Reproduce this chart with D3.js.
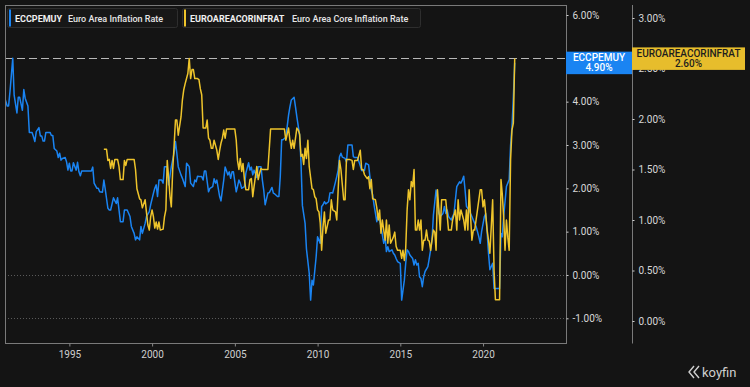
<!DOCTYPE html>
<html><head><meta charset="utf-8">
<script src="https://cdn.jsdelivr.net/npm/d3@7"></script>
<style>
html,body{margin:0;padding:0;background:#141414;}
svg{display:block;font-family:Roboto,"Noto Sans",sans-serif;}
</style></head><body>
<svg id="c" width="750" height="387"></svg>
<script>
const seriesCodes = ["ECCPEMUY", "EUROAREACORINFRAT"];
const seriesTitles = ["Euro Area Inflation Rate", "Euro Area Core Inflation Rate"];
const seriesColors = ["#1a84f2", "#eec42b"];
const xTickYears = [1995, 2000, 2005, 2010, 2015, 2020];
const leftTicks = [-1, 0, 1, 2, 3, 4, 6];
const rightTicks = [0, 0.5, 1, 1.5, 2, 2.5, 3];
const gridLevels = [-1, 0];

const headline = [
["1991-01",4.10],["1991-03",3.90],["1991-04",3.90],["1991-05",4.23],["1991-07",5.00],["1991-08",4.15],["1991-10",3.74],["1991-11",4.10],["1991-12",4.10],
["1992-02",3.80],["1992-03",4.28],["1992-04",4.08],["1992-06",3.90],["1992-07",3.29],["1992-09",3.29],["1992-10",3.19],["1992-11",3.08],["1992-12",3.31],
["1993-02",3.40],["1993-03",3.21],["1993-04",3.21],["1993-05",3.09],["1993-06",3.09],["1993-07",3.29],["1993-10",3.29],["1993-11",3.22],["1993-12",3.22],
["1994-01",2.92],["1994-03",2.86],["1994-04",2.71],["1994-05",2.81],["1994-06",2.65],["1994-07",2.69],["1994-09",2.71],["1994-10",2.61],["1994-11",2.42],["1994-12",2.58],
["1995-01",2.40],["1995-02",2.40],["1995-03",2.59],["1995-05",2.42],["1995-06",2.60],["1995-07",2.38],["1995-08",2.29],["1995-09",2.40],
["1996-04",2.40],["1996-05",2.49],["1996-06",2.12],["1996-08",2.00],["1996-09",2.00],["1996-10",1.92],["1996-12",1.91],
["1997-01",2.19],["1997-02",2.00],["1997-04",1.54],["1997-05",1.50],["1997-06",1.50],["1997-08",1.78],["1997-10",1.65],["1997-11",1.78],
["1998-01",1.23],["1998-03",1.23],["1998-04",1.50],["1998-06",1.50],["1998-08",1.35],["1998-09",1.12],["1998-11",0.96],["1998-12",0.81],
["1999-01",0.88],["1999-03",0.81],["1999-04",1.12],["1999-05",0.96],["1999-07",1.19],["1999-08",1.35],["1999-10",1.46],["1999-11",1.62],
["2000-01",1.89],["2000-02",2.00],["2000-03",2.08],["2000-04",1.81],["2000-05",2.19],["2000-07",2.19],["2000-08",2.12],["2000-09",2.50],["2000-11",2.50],["2000-12",2.08],
["2001-02",2.50],["2001-04",2.81],["2001-05",3.08],["2001-06",2.81],["2001-07",2.50],["2001-09",2.31],["2001-10",2.23],["2001-12",2.04],
["2002-01",2.58],["2002-03",2.50],["2002-04",2.12],["2002-06",2.04],["2002-07",2.19],["2002-08",2.15],["2002-09",2.28],["2002-11",2.27],["2002-12",2.27],
["2003-01",2.19],["2003-02",2.40],["2003-03",2.40],["2003-05",1.92],["2003-06",2.00],["2003-08",2.04],["2003-09",2.22],["2003-10",2.12],["2003-11",2.19],
["2004-01",1.81],["2004-02",1.71],["2004-04",2.19],["2004-05",2.49],["2004-07",2.31],["2004-08",2.38],["2004-09",2.23],["2004-10",2.38],["2004-11",2.38],
["2005-01",1.92],["2005-02",2.04],["2005-03",2.19],["2005-04",2.12],["2005-05",2.00],["2005-07",2.04],["2005-08",2.35],["2005-10",2.59],["2005-11",2.42],["2005-12",2.49],
["2006-01",2.31],["2006-02",2.42],["2006-04",2.25],["2006-05",2.50],["2006-07",2.50],["2006-08",2.19],["2006-09",1.96],["2006-10",1.62],["2006-12",1.89],
["2007-01",1.90],["2007-03",2.02],["2007-04",1.89],["2007-05",1.87],["2007-07",1.81],["2007-08",1.81],["2007-09",2.27],["2007-10",3.12],["2007-11",3.12],
["2008-01",3.18],["2008-02",3.42],["2008-03",3.69],["2008-04",3.88],["2008-05",4.04],["2008-07",4.10],["2008-08",3.88],["2008-09",3.65],["2008-11",3.23],["2008-12",2.58],
["2009-01",1.60],["2009-03",1.19],["2009-04",0.60],["2009-06",0.04],["2009-07",-0.58],["2009-08",-0.12],["2009-09",-0.23],["2009-11",0.42],["2009-12",0.88],
["2010-02",0.73],["2010-03",1.58],["2010-04",1.62],["2010-05",1.69],["2010-06",1.64],["2010-08",1.69],["2010-09",1.89],["2010-10",1.90],["2010-11",1.89],
["2011-01",2.15],["2011-02",2.27],["2011-03",2.42],["2011-04",2.73],["2011-05",2.81],["2011-06",2.72],["2011-08",2.69],["2011-09",2.61],["2011-10",3.00],
["2012-01",3.00],["2012-02",2.73],["2012-03",2.71],["2012-05",2.71],["2012-07",2.52],["2012-08",2.41],["2012-10",2.41],["2012-11",2.58],
["2013-01",2.54],["2013-02",2.27],["2013-03",1.96],["2013-04",1.85],["2013-05",1.62],["2013-07",1.23],["2013-08",1.42],["2013-09",1.27],["2013-10",1.12],["2013-12",0.73],
["2014-01",0.88],["2014-02",0.54],["2014-03",0.65],["2014-04",0.54],["2014-06",0.58],["2014-07",0.50],["2014-08",0.46],["2014-09",0.38],["2014-10",0.31],["2014-12",0.27],
["2015-01",-0.58],["2015-03",-0.12],["2015-04",0.27],["2015-05",0.58],["2015-06",0.54],["2015-07",0.46],["2015-09",0.38],["2015-10",0.23],["2015-11",0.35],["2015-12",0.23],
["2016-01",0.27],["2016-02",-0.04],["2016-03",-0.08],["2016-04",-0.27],["2016-05",-0.04],["2016-06",0.08],["2016-08",0.19],["2016-09",0.38],["2016-10",0.58],["2016-11",0.81],["2016-12",1.38],
["2017-02",1.96],["2017-03",1.77],["2017-04",1.42],["2017-05",1.35],["2017-07",1.42],["2017-08",1.58],["2017-09",1.42],["2017-10",1.50],["2017-11",1.35],
["2018-01",1.27],["2018-02",1.35],["2018-03",1.42],["2018-04",1.73],["2018-05",2.04],["2018-07",2.15],["2018-08",2.12],["2018-09",2.19],["2018-10",2.28],["2018-11",1.96],["2018-12",1.58],
["2019-02",1.50],["2019-03",1.42],["2019-04",1.35],["2019-05",1.27],["2019-07",1.12],["2019-08",1.00],["2019-09",0.88],["2019-10",0.73],["2019-11",1.00],
["2020-01",1.35],["2020-02",1.42],["2020-03",1.00],["2020-04",0.50],["2020-05",0.12],["2020-07",0.27],["2020-08",-0.31],["2020-11",-0.31],["2020-12",-0.31],
["2021-01",0.96],["2021-02",0.88],["2021-03",1.35],["2021-04",1.69],["2021-05",2.04],["2021-07",2.20],["2021-08",3.00],["2021-09",3.40],["2021-10",4.10],["2021-11",4.90]
];

const core = [
["1997-01",1.70],["1997-03",1.70],["1997-04",1.59],["1997-05",1.60],["1997-06",1.51],["1997-07",1.59],["1997-08",1.51],["1997-09",1.60],["1997-11",1.60],["1997-12",1.53],
["1998-01",1.40],["1998-03",1.40],["1998-04",1.59],["1998-05",1.54],["1998-06",1.60],["1998-11",1.60],["1998-12",1.50],
["1999-01",1.31],["1999-03",1.21],["1999-04",1.20],["1999-05",1.12],["1999-07",1.20],["1999-08",1.07],["1999-09",0.95],["1999-10",0.90],["1999-11",1.03],["1999-12",1.10],
["2000-01",1.03],["2000-02",0.92],["2000-03",0.98],["2000-04",0.91],["2000-05",0.98],["2000-06",0.90],["2000-08",0.91],["2000-09",1.03],["2000-10",1.10],["2000-11",1.59],
["2001-01",1.23],["2001-02",1.13],["2001-03",1.50],["2001-04",1.73],["2001-05",1.99],["2001-06",1.99],["2001-07",1.84],["2001-09",2.02],["2001-10",2.19],["2001-11",2.29],["2001-12",2.35],
["2002-02",2.45],["2002-03",2.60],["2002-04",2.40],["2002-05",2.49],["2002-06",2.49],["2002-07",2.40],["2002-09",2.40],["2002-10",2.39],["2002-11",2.30],["2002-12",2.24],
["2003-01",1.91],["2003-03",1.91],["2003-04",1.99],["2003-05",1.81],["2003-06",1.79],["2003-07",1.71],["2003-08",1.71],["2003-09",1.79],["2003-11",1.69],["2003-12",1.60],
["2004-01",1.69],["2004-02",1.76],["2004-03",1.81],["2004-04",1.89],["2004-05",1.81],["2004-06",1.90],["2004-12",1.90],
["2005-01",1.79],["2005-02",1.59],["2005-03",1.50],["2005-04",1.61],["2005-05",1.48],["2005-06",1.56],["2005-07",1.40],["2005-08",1.30],["2005-10",1.30],["2005-11",1.40],["2005-12",1.41],
["2006-01",1.23],["2006-02",1.33],["2006-04",1.53],["2006-05",1.40],["2006-06",1.46],["2006-07",1.51],["2006-08",1.50],["2006-12",1.50],
["2007-02",1.90],["2007-12",1.90],
["2008-01",1.79],["2008-03",1.91],["2008-04",1.79],["2008-05",1.71],["2008-06",1.79],["2008-07",1.71],["2008-09",1.91],["2008-10",1.89],["2008-11",1.85],["2008-12",1.63],
["2009-01",1.65],["2009-02",1.55],["2009-03",1.71],["2009-04",1.61],["2009-05",1.79],["2009-06",1.53],["2009-08",1.31],["2009-09",1.30],["2009-10",1.23],["2009-11",1.21],["2009-12",1.10],
["2010-01",1.08],["2010-02",0.97],["2010-03",0.70],["2010-04",0.93],["2010-05",1.08],["2010-06",0.87],["2010-08",1.00],["2010-09",1.00],["2010-10",1.20],["2010-11",1.10],
["2011-01",1.08],["2011-02",1.00],["2011-03",1.30],["2011-04",1.59],["2011-05",1.50],["2011-07",1.20],["2011-08",1.20],["2011-09",1.60],["2011-11",1.60],
["2012-01",1.59],["2012-02",1.50],["2012-03",1.59],["2012-05",1.59],["2012-07",1.69],["2012-08",1.50],["2012-09",1.50],["2012-10",1.45],["2012-12",1.41],
["2013-01",1.43],["2013-02",1.31],["2013-03",1.40],["2013-04",1.21],["2013-06",1.20],["2013-07",1.12],["2013-08",1.00],["2013-09",1.10],["2013-10",0.87],["2013-11",1.00],
["2014-01",0.80],["2014-02",1.00],["2014-03",0.77],["2014-04",0.95],["2014-05",0.77],["2014-07",0.83],["2014-08",0.88],["2014-09",0.74],["2014-10",0.70],["2014-12",0.70],
["2015-01",0.62],["2015-02",0.70],["2015-03",0.60],["2015-04",0.72],["2015-05",1.10],["2015-06",1.30],["2015-07",1.20],["2015-08",1.38],["2015-09",1.33],["2015-10",1.50],["2015-11",0.90],["2015-12",0.90],
["2016-01",1.00],["2016-02",0.90],["2016-03",1.00],["2016-04",0.70],["2016-05",0.80],["2016-06",0.80],["2016-07",0.90],["2016-08",0.80],["2016-09",0.79],["2016-10",0.70],["2016-11",0.80],["2016-12",0.90],
["2017-01",0.88],["2017-02",0.70],["2017-03",1.30],["2017-05",0.90],["2017-06",1.20],["2017-09",1.20],["2017-11",0.90],
["2018-01",0.90],["2018-02",1.00],["2018-04",1.10],["2018-05",0.90],["2018-06",1.20],["2018-07",1.00],["2018-08",1.10],["2018-10",1.00],["2018-11",0.90],["2018-12",1.10],
["2019-01",0.90],["2019-02",1.30],["2019-04",0.80],["2019-05",0.90],["2019-06",0.90],["2019-07",1.00],["2019-08",1.10],["2019-10",1.30],["2019-11",1.30],["2019-12",1.13],
["2020-01",1.20],["2020-03",0.90],["2020-04",0.80],["2020-05",0.67],["2020-07",1.20],["2020-08",0.50],["2020-09",0.21],["2020-12",0.21],
["2021-01",1.40],["2021-02",1.26],["2021-03",1.03],["2021-04",0.70],["2021-05",1.00],["2021-06",0.83],["2021-07",0.70],["2021-08",1.60],["2021-09",1.89],["2021-10",1.96],["2021-11",2.60]
];

const parseMonth = d3.timeParse("%Y-%m");
const monthEnd = s => d3.timeDay.offset(d3.timeMonth.offset(parseMonth(s), 1), -1);
const headData = headline.map(([d, v]) => ({date: monthEnd(d), value: v}));
const coreData = core.map(([d, v]) => ({date: monthEnd(d), value: v}));

const svg = d3.select("#c");
const plot = {left: 5, top: 5, right: 566, bottom: 343};
const axis2X = 632;

const x = d3.scaleTime().domain([new Date(1991, 1, 10), new Date(2025, 0, 5)]).range([plot.left, plot.right]);
const yL = d3.scaleLinear().domain([-1, 6]).range([318.3, 15]);
const yR = d3.scaleLinear().domain([0, 3]).range([321, 18]);

svg.append("rect").attr("width", 750).attr("height", 387).attr("fill", "#141414");

svg.append("clipPath").attr("id", "clip").append("rect")
  .attr("x", plot.left).attr("y", plot.top)
  .attr("width", plot.right - plot.left).attr("height", plot.bottom - plot.top);

// dotted grid lines
svg.append("g").selectAll("line").data(gridLevels).join("line")
  .attr("x1", plot.left).attr("x2", plot.right)
  .attr("y1", d => Math.round(yL(d)) + 0.5).attr("y2", d => Math.round(yL(d)) + 0.5)
  .attr("stroke", "#5a5a5a").attr("stroke-width", 1).attr("stroke-dasharray", "1,2");

// last-value dashed line
const lastCore = coreData[coreData.length - 1].value;
const lastHead = headData[headData.length - 1].value;
svg.append("line")
  .attr("x1", plot.left).attr("x2", plot.right)
  .attr("y1", Math.round(yR(lastCore)) + 0.5).attr("y2", Math.round(yR(lastCore)) + 0.5)
  .attr("stroke", "#b8b8b8").attr("stroke-width", 1.2).attr("stroke-dasharray", "8,4");

// lines
const lineL = d3.line().x(d => x(d.date)).y(d => yL(d.value));
const lineR = d3.line().x(d => x(d.date)).y(d => yR(d.value));
const lg = svg.append("g").attr("clip-path", "url(#clip)");
lg.append("path").datum(headData).attr("d", lineL)
  .attr("fill", "none").attr("stroke", seriesColors[0]).attr("stroke-width", 1.5).attr("stroke-linejoin", "round");
lg.append("path").datum(coreData).attr("d", lineR)
  .attr("fill", "none").attr("stroke", seriesColors[1]).attr("stroke-width", 1.5).attr("stroke-linejoin", "round");

// frame
svg.append("rect").attr("x", plot.left + 0.5).attr("y", plot.top + 0.5)
  .attr("width", plot.right - plot.left).attr("height", plot.bottom - plot.top)
  .attr("fill", "none").attr("stroke", "#7a7a7a").attr("stroke-width", 1);
svg.append("line").attr("x1", axis2X + 0.5).attr("x2", axis2X + 0.5)
  .attr("y1", plot.top).attr("y2", plot.bottom + 0.5)
  .attr("stroke", "#7a7a7a").attr("stroke-width", 1);

// x axis
const xAxis = d3.axisBottom(x)
  .tickValues(xTickYears.map(y => new Date(y, 0, 1)))
  .tickFormat(d3.timeFormat("%Y")).tickSize(3).tickPadding(4);
const gx = svg.append("g").attr("transform", `translate(0,${plot.bottom + 0.5})`).call(xAxis);
gx.select(".domain").remove();
gx.selectAll("line").attr("stroke", "#888");
gx.selectAll("text").attr("fill", "#cfcfcf").attr("font-size", 10).attr("font-family", "Roboto");

// right axes
const fmt = d => d.toFixed(2) + "%";
const gL = svg.append("g").attr("transform", `translate(${plot.right + 0.5},0)`)
  .call(d3.axisRight(yL).tickValues(leftTicks).tickFormat(fmt).tickSize(2).tickPadding(4));
const gR = svg.append("g").attr("transform", `translate(${axis2X + 0.5},0)`)
  .call(d3.axisRight(yR).tickValues(rightTicks).tickFormat(fmt).tickSize(2).tickPadding(4));
[gL, gR].forEach(g => {
  g.select(".domain").remove();
  g.selectAll("line").attr("stroke", "#cfcfcf");
  g.selectAll("text").attr("fill", "#d8d8d8").attr("font-size", 10).attr("font-family", "Roboto");
});

// legend
const legendItems = [
  {code: seriesCodes[0], title: seriesTitles[0], color: seriesColors[0], x: 7, w: 170, titleX: 68},
  {code: seriesCodes[1], title: seriesTitles[1], color: seriesColors[1], x: 182, w: 238, titleX: 292}
];
const lgd = svg.append("g");
legendItems.forEach(it => {
  lgd.append("rect").attr("x", it.x + 0.5).attr("y", 8.5).attr("width", it.w).attr("height", 19)
    .attr("rx", 2).attr("fill", "#171717").attr("stroke", "#2e2e2e");
  lgd.append("rect").attr("x", it.x + 2).attr("y", 9.5).attr("width", 2).attr("height", 17).attr("fill", it.color);
  lgd.append("text").attr("x", it.x + 8).attr("y", 21.5).text(it.code)
    .attr("fill", "#f0f0f0").attr("font-size", 9).attr("font-weight", 700);
  lgd.append("text").attr("x", it.titleX).attr("y", 21.5).text(it.title)
    .attr("fill", "#e6e6e6").attr("font-size", 9).attr("font-weight", 500);
});

// last value labels
const boxes = [
  {code: seriesCodes[0], val: lastHead, x0: plot.right, x1: axis2X, yc: yL(lastHead), fill: seriesColors[0], text: "#ffffff"},
  {code: seriesCodes[1], val: lastCore, x0: axis2X, x1: 745, yc: yR(lastCore), fill: "#e7bd2c", text: "#1e1e1e"}
];
boxes.forEach(b => {
  const h = 22.5;
  const top = b.yc - 11;
  svg.append("rect").attr("x", b.x0).attr("y", top).attr("width", b.x1 - b.x0).attr("height", h).attr("fill", b.fill);
  const cx = (b.x0 + b.x1) / 2;
  svg.append("text").attr("x", cx).attr("y", top + 9.5).attr("text-anchor", "middle")
    .attr("fill", b.text).attr("font-size", 10).attr("font-weight", 500).text(b.code);
  svg.append("text").attr("x", cx).attr("y", top + 19.5).attr("text-anchor", "middle")
    .attr("fill", b.text).attr("font-size", 10).attr("font-weight", 500).text(fmt(b.val));
});

// koyfin logo
const logo = svg.append("g").attr("transform", "translate(688,366)").attr("fill", "none").attr("stroke", "#cfcfcf").attr("stroke-width", 1.4);
logo.append("path").attr("d", "M6,0 L1,6 L6,12");
logo.append("path").attr("d", "M11,0 L6,6 L11,12");
svg.append("text").attr("x", 702).attr("y", 377).text("koyfin")
  .attr("fill", "#cfcfcf").attr("font-size", 13).attr("font-family", "Roboto");
</script>
</body></html>
